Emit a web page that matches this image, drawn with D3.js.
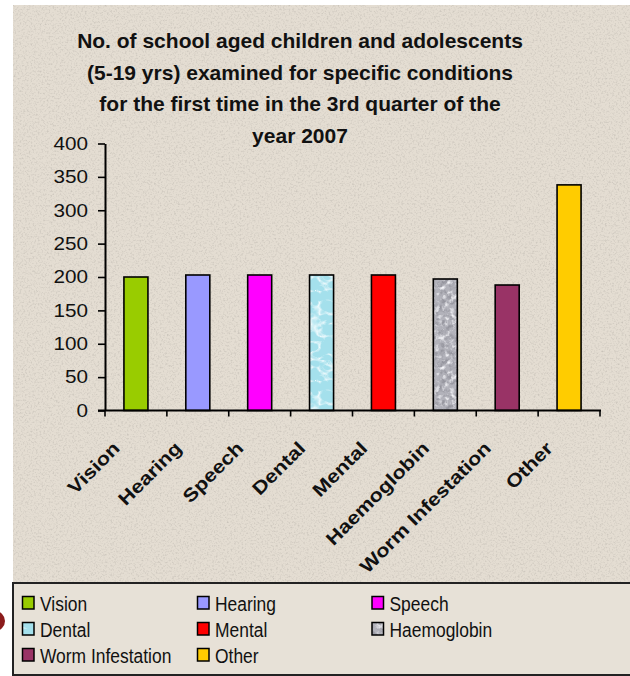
<!DOCTYPE html>
<html>
<head>
  <meta charset="utf-8">
  <title>School aged children examined, 3rd quarter 2007</title>
  <style>
    body { margin: 0; background: #ffffff; }
    text { font-family: "Liberation Sans", Arial, sans-serif; fill: #111; }
    .title { font-size: 21px; font-weight: bold; }
    .ylab { font-size: 18px; }
    .xlab { font-size: 18.5px; font-weight: bold; }
    .leg { font-size: 21px; }
  </style>
</head>
<body>
<script src="https://cdn.jsdelivr.net/npm/d3@7"></script>
<script>

  // data
  var categories = ["Vision", "Hearing", "Speech", "Dental", "Mental", "Haemoglobin", "Worm Infestation", "Other"];
  var counts = [200, 203, 203, 203, 203, 197, 188, 338];
  var yTicks = [0, 50, 100, 150, 200, 250, 300, 350, 400];
  var titleLines = [
    "No. of school aged children and adolescents",
    "(5-19 yrs) examined for specific conditions",
    "for the first time in the 3rd quarter of the",
    "year 2007"
  ];

  // fills per category (two of them are textured)
  var fills = {
    "Vision": "#99cc00",
    "Hearing": "#9999ff",
    "Speech": "#ff00ff",
    "Dental": "url(#pDental)",
    "Mental": "#ff0000",
    "Haemoglobin": "url(#pGranite)",
    "Worm Infestation": "#993366",
    "Other": "#ffcc00"
  };

  var data = categories.map(function(c, i) { return {name: c, value: counts[i]}; });

  var W = 630, H = 676;
  var plot = {l: 105, r: 600, t: 143.5, b: 410.5};
  var pad = 0.612;

  var x = d3.scaleBand().domain(categories).range([plot.l, plot.r])
            .paddingInner(pad).paddingOuter(pad / 2);
  var y = d3.scaleLinear().domain([0, 400]).range([plot.b, plot.t]);

  var svg = d3.select("body").append("svg")
              .attr("width", W)
              .attr("height", H);

  var defs = svg.append("defs");

  // paper-like speckle for the background
  var fPaper = defs.append("filter").attr("id", "fPaper")
                   .attr("x", 0).attr("y", 0).attr("width", "100%").attr("height", "100%");
  fPaper.append("feTurbulence").attr("type", "fractalNoise")
        .attr("baseFrequency", 0.55).attr("numOctaves", 2).attr("seed", 7);
  fPaper.append("feColorMatrix").attr("type", "matrix")
        .attr("values", "0 0 0 0 0.45  0 0 0 0 0.42  0 0 0 0 0.38  2.2 0 0 0 -1.05");

  // granite texture for Haemoglobin
  var fDark = defs.append("filter").attr("id", "fDark")
                  .attr("x", 0).attr("y", 0).attr("width", "100%").attr("height", "100%");
  fDark.append("feTurbulence").attr("type", "fractalNoise")
       .attr("baseFrequency", 0.2).attr("numOctaves", 3).attr("seed", 3);
  fDark.append("feColorMatrix").attr("type", "matrix")
       .attr("values", "0 0 0 0 0.3  0 0 0 0 0.3  0 0 0 0 0.34  3.2 0 0 0 -1.45");

  var fLight = defs.append("filter").attr("id", "fLight")
                   .attr("x", 0).attr("y", 0).attr("width", "100%").attr("height", "100%");
  fLight.append("feTurbulence").attr("type", "fractalNoise")
        .attr("baseFrequency", 0.2).attr("numOctaves", 3).attr("seed", 11);
  fLight.append("feColorMatrix").attr("type", "matrix")
        .attr("values", "0 0 0 0 0.92  0 0 0 0 0.92  0 0 0 0 0.95  0 -3 0 0 1.5");

  var pGr = defs.append("pattern").attr("id", "pGranite")
                .attr("patternUnits", "userSpaceOnUse").attr("width", 80).attr("height", 80);
  pGr.append("rect").attr("width", 80).attr("height", 80).attr("fill", "#b2b2ba");
  pGr.append("rect").attr("width", 80).attr("height", 80).attr("filter", "url(#fDark)");
  pGr.append("rect").attr("width", 80).attr("height", 80).attr("filter", "url(#fLight)");

  // watery texture for Dental
  var fWave = defs.append("filter").attr("id", "fWave")
                  .attr("x", 0).attr("y", 0).attr("width", "100%").attr("height", "100%");
  fWave.append("feTurbulence").attr("type", "turbulence")
       .attr("baseFrequency", "0.06 0.09").attr("numOctaves", 2).attr("seed", 5);
  fWave.append("feColorMatrix").attr("type", "matrix")
       .attr("values", "0 0 0 0 0.92  0 0 0 0 0.98  0 0 0 0 1  -4 0 0 0 0.9");

  var pDe = defs.append("pattern").attr("id", "pDental")
                .attr("patternUnits", "userSpaceOnUse").attr("width", 90).attr("height", 90);
  pDe.append("rect").attr("width", 90).attr("height", 90).attr("fill", "#a4e0ec");
  pDe.append("rect").attr("width", 90).attr("height", 90).attr("filter", "url(#fWave)");

  // beige panel
  svg.append("rect").attr("x", 13).attr("y", 5).attr("width", W - 13).attr("height", H - 5)
     .attr("fill", "#e4ddd2");
  svg.append("rect").attr("x", 13).attr("y", 5).attr("width", W - 13).attr("height", H - 5)
     .attr("filter", "url(#fPaper)").attr("opacity", 0.55);

  // bit of the slide decoration peeking in on the left
  svg.append("circle").attr("cx", -5).attr("cy", 621).attr("r", 10).attr("fill", "#8b1c1c");

  // title
  svg.append("g").selectAll("text")
      .data(titleLines)
    .enter().append("text")
      .attr("class", "title")
      .attr("x", 300)
      .attr("y", function(d, i) { return 48 + i * 31.7; })
      .style("text-anchor", "middle")
      .text(function(d) { return d; });

  // bars
  svg.append("g").selectAll("rect")
      .data(data)
    .enter().append("rect")
      .attr("x", function(d) { return x(d.name); })
      .attr("y", function(d) { return y(d.value); })
      .attr("width", x.bandwidth())
      .attr("height", function(d) { return y(0) - y(d.value); })
      .attr("fill", function(d) { return fills[d.name]; })
      .attr("stroke", "#000")
      .attr("stroke-width", 1.6);

  // Y axis
  var yAxis = d3.axisLeft(y).tickValues(yTicks).tickSize(7).tickSizeOuter(0).tickPadding(10);
  var gy = svg.append("g")
              .attr("transform", "translate(" + plot.l + ",0)")
              .call(yAxis);
  gy.select(".domain").attr("stroke", "#000").attr("stroke-width", 2);
  gy.selectAll(".tick line").attr("stroke", "#000").attr("stroke-width", 1.6);
  gy.selectAll(".tick text")
      .attr("class", "ylab")
      .attr("fill", "#111")
      .attr("font-size", null).attr("font-family", null)
      .attr("transform", function() {
        var tx = -17;
        return "translate(" + tx + ",0) scale(1.15,1) translate(" + (-tx) + ",0)";
      });

  // X axis: line plus ticks on the band edges
  var edges = d3.range(categories.length + 1).map(function(i) { return plot.l + i * x.step(); });
  var gx = svg.append("g");
  gx.append("line")
      .attr("x1", plot.l - 7).attr("x2", plot.r + 1)
      .attr("y1", y(0)).attr("y2", y(0))
      .attr("stroke", "#000").attr("stroke-width", 2);
  gx.selectAll(".edge")
      .data(edges)
    .enter().append("line")
      .attr("class", "edge")
      .attr("x1", function(d) { return d; }).attr("x2", function(d) { return d; })
      .attr("y1", y(0)).attr("y2", y(0) + 6)
      .attr("stroke", "#000").attr("stroke-width", 1.6);

  // category labels, slanted
  gx.selectAll(".xlab")
      .data(categories)
    .enter().append("text")
      .attr("class", "xlab")
      .attr("transform", function(d) {
        var cx = x(d) + x.bandwidth() / 2 - 15;
        return "translate(" + cx + "," + (y(0) + 39) + ") rotate(-45) scale(1.17,1)";
      })
      .style("text-anchor", "end")
      .text(function(d) { return d; });

  // legend
  var leg = svg.append("g");
  leg.append("rect")
      .attr("x", 13).attr("y", 583).attr("width", W).attr("height", 92)
      .attr("fill", "#e7e1d7").attr("stroke", "#222").attr("stroke-width", 2);

  var colX = [22.5, 197.5, 372];
  var rowY = [603, 629, 655];
  var items = leg.selectAll(".item")
      .data(categories)
    .enter().append("g")
      .attr("class", "item")
      .attr("transform", function(d, i) {
        return "translate(" + colX[i % 3] + "," + rowY[Math.floor(i / 3)] + ")";
      });
  items.append("rect")
      .attr("x", 0).attr("y", -6.5).attr("width", 11.5).attr("height", 12.5)
      .attr("fill", function(d) { return fills[d]; })
      .attr("stroke", "#000").attr("stroke-width", 1.5);
  items.append("text")
      .attr("class", "leg")
      .attr("transform", "translate(17.5,7.5) scale(0.83,1)")
      .text(function(d) { return d; });

</script>
</body>
</html>
